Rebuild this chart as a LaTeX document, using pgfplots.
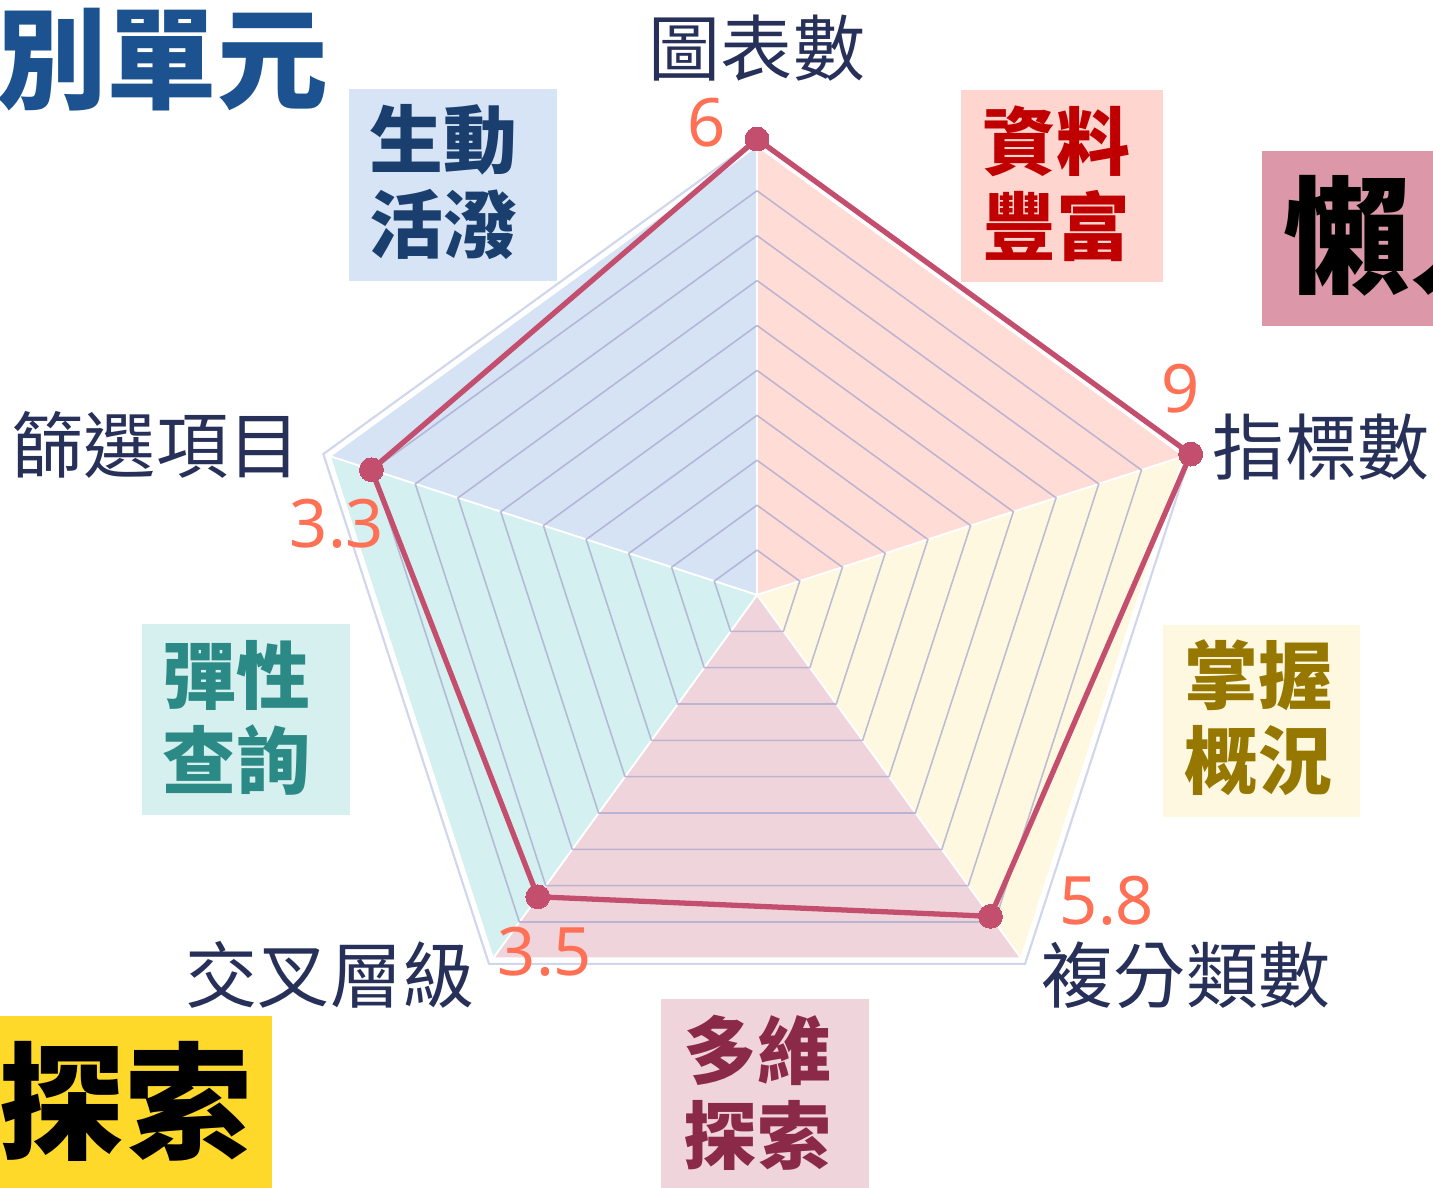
\documentclass[border=0pt]{standalone}
\usepackage{pgfplots}
\pgfplotsset{compat=1.18}
\usepackage{fontspec}
\newfontfamily\cjk{Noto Sans CJK TC}
\newfontfamily\numf{Noto Sans}
\definecolor{secBlue}{HTML}{D5E3F5}
\definecolor{secPink}{HTML}{FFDCD6}
\definecolor{secYel}{HTML}{FFF8E0}
\definecolor{secRose}{HTML}{F0D4DC}
\definecolor{secTeal}{HTML}{D4F0F0}
\definecolor{gridc}{HTML}{A8A8CE}
\definecolor{outc}{HTML}{D0D6EC}
\definecolor{linec}{HTML}{C44E6E}
\definecolor{axisc}{HTML}{263059}
\definecolor{valc}{HTML}{FF7055}
\definecolor{bigBlue}{HTML}{1C5290}
\definecolor{boxBlue}{HTML}{D6E4F6}
\definecolor{txtBlue}{HTML}{1A3F6E}
\definecolor{boxPink}{HTML}{FFD5CF}
\definecolor{txtRed}{HTML}{C00000}
\definecolor{boxLazy}{HTML}{DC97A9}
\definecolor{boxYel}{HTML}{FFF8E1}
\definecolor{txtOlive}{HTML}{967800}
\definecolor{boxTeal}{HTML}{D5F0EF}
\definecolor{txtTeal}{HTML}{2B8A85}
\definecolor{boxRose}{HTML}{F0D4DC}
\definecolor{txtRose}{HTML}{8B2A48}
\definecolor{boxGold}{HTML}{FFD92A}
\newcommand{\px}[2]{({#1/100},{(1187-#2)/100})}
\begin{document}
\begin{tikzpicture}
\useasboundingbox (0,0) rectangle (14.33,11.87);
\fill[white] (0,0) rectangle (14.33,11.87);
\coordinate (C) at (7.57,5.92);
\begin{axis}[at={(C)}, anchor=center, x=4.56cm, y=4.56cm,
  hide axis, xmin=-1.1, xmax=1.1, ymin=-1.1, ymax=1.1, clip=false]
% sectors (vertices at radius 0.985 on axes at 90, 18, -54, -126, 162 degrees)
\addplot[draw=white, line width=0.5pt, fill=secBlue] coordinates {(0,0) (-0.93679,0.30438) (0,0.985) (0,0)};
\addplot[draw=white, line width=0.5pt, fill=secPink] coordinates {(0,0) (0,0.985) (0.93679,0.30438) (0,0)};
\addplot[draw=white, line width=0.5pt, fill=secYel] coordinates {(0,0) (0.93679,0.30438) (0.57897,-0.79688) (0,0)};
\addplot[draw=white, line width=0.5pt, fill=secRose] coordinates {(0,0) (0.57897,-0.79688) (-0.57897,-0.79688) (0,0)};
\addplot[draw=white, line width=0.5pt, fill=secTeal] coordinates {(0,0) (-0.57897,-0.79688) (-0.93679,0.30438) (0,0)};
% rings
\pgfplotsinvokeforeach{0.0985,0.197,0.2955,0.394,0.4925,0.591,0.6895,0.788,0.8865}{
  \addplot[gridc, opacity=0.75, line width=0.45pt, x filter/.expression={x*#1}, y filter/.expression={y*#1}]
    coordinates {(0,1) (0.95106,0.30902) (0.58779,-0.80902) (-0.58779,-0.80902) (-0.95106,0.30902) (0,1)};
}
% outline
\addplot[outc, line width=0.6pt] coordinates {(0,1) (0.95106,0.30902) (0.58779,-0.80902) (-0.58779,-0.80902) (-0.95106,0.30902) (0,1)};
% data: 6 (r=1.0), 9 (r=1.0), 5.8 (r=0.871), 3.5 (r=0.818), 3.3 (r=0.889)
\addplot[linec, line width=1.5pt, mark=*, mark size=3.4pt,
  mark options={solid, fill=linec, draw=linec, line width=0pt}]
  coordinates {(0,1) (0.95106,0.30902) (0.51196,-0.70465) (-0.48081,-0.66178) (-0.84549,0.27472) (0,1)};
\end{axis}
% value labels
\begin{scope}[every node/.style={inner sep=0pt, text=valc, font=\numf\fontsize{19}{22}\selectfont}]
\node at \px{707}{123} {6};
\node at \px{1181}{389} {9};
\node at \px{1107}{901} {5.8};
\node at \px{545}{952} {3.5};
\node at \px{337}{524} {3.3};
\end{scope}
% axis labels
\begin{scope}[every node/.style={inner sep=0pt, text=axisc, font=\cjk\fontsize{20.5}{24}\selectfont}]
\node at \px{757}{48} {圖表數};
\node at \px{1321}{447} {指標數};
\node at \px{1186}{975} {複分類數};
\node at \px{330}{975} {交叉層級};
\node at \px{156}{445} {篩選項目};
\end{scope}
% boxes
\fill[boxBlue] \px{349}{89} rectangle \px{557}{281};
\fill[boxPink] \px{961}{90} rectangle \px{1163}{282};
\fill[boxLazy] \px{1262}{151} rectangle \px{1440}{326};
\fill[boxYel] \px{1163}{625} rectangle \px{1360}{817};
\fill[boxTeal] \px{142}{624} rectangle \px{350}{815};
\fill[boxRose] \px{661}{999} rectangle \px{869}{1190};
\fill[boxGold] \px{-5}{1016} rectangle \px{272}{1190};
\begin{scope}[every node/.style={inner sep=0pt, font=\cjk\bfseries\fontsize{21}{24}\selectfont}]
\node[text=txtBlue] at \px{443}{140} {生動};
\node[text=txtBlue] at \px{443}{224} {活潑};
\node[text=txtRed] at \px{1056}{141} {資料};
\node[text=txtRed] at \px{1056}{226} {豐富};
\node[text=txtOlive] at \px{1258}{675} {掌握};
\node[text=txtOlive] at \px{1258}{761} {概況};
\node[text=txtTeal] at \px{236}{675} {彈性};
\node[text=txtTeal] at \px{236}{760} {查詢};
\node[text=txtRose] at \px{757}{1050} {多維};
\node[text=txtRose] at \px{757}{1135} {探索};
\end{scope}
\node[inner sep=0pt, anchor=east, text=bigBlue, font=\cjk\bfseries\fontsize{31.5}{34}\selectfont] at \px{329}{60} {別單元};
\node[inner sep=0pt, anchor=west, text=black, font=\cjk\bfseries\fontsize{36}{40}\selectfont] at \px{1283}{236} {懶人};
\node[inner sep=0pt, text=black, font=\cjk\bfseries\fontsize{36}{40}\selectfont] at \px{125}{1101} {探索};
\end{tikzpicture}
\end{document}
